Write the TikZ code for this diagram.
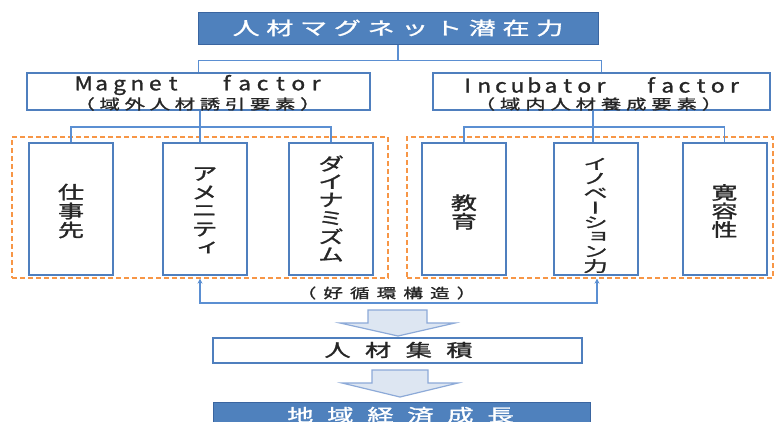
\documentclass[tikz,border=0pt]{standalone}
\usepackage{fontspec}
\setmainfont{Noto Sans CJK JP}[FakeBold=1.2]
\newfontfamily\vfont{Noto Sans CJK JP}[RawFeature=+vert,FakeBold=1.2]
\usetikzlibrary{arrows.meta}
\definecolor{tblue}{HTML}{4F81BD}
\definecolor{tedge}{HTML}{3A65A0}
\definecolor{bblue}{HTML}{4F7FBE}
\definecolor{cblue}{HTML}{5B8FD2}
\definecolor{dorange}{HTML}{F79646}
\definecolor{afill}{HTML}{DDE6F2}
\definecolor{aedge}{HTML}{8DAAD8}
\definecolor{txt}{HTML}{262626}
\ExplSyntaxOn
\NewDocumentCommand\hspread{m m}{\tl_map_inline:nn {#2}{\makebox[#1]{##1}}}
\NewDocumentCommand\vstack{m m}{\vbox{\offinterlineskip\tl_map_inline:nn {#2}{\hbox to 1em{\hss\vbox to #1{\vss\hbox{##1}\vss}\hss}}}}
\ExplSyntaxOff
\tikzset{
  topbox/.style={rectangle, fill=tblue, draw=tedge, line width=1pt, inner sep=0pt},
  fbox/.style={rectangle, fill=white, draw=bblue, line width=2pt, inner sep=0pt},
  dbox/.style={rectangle, draw=dorange, line width=1.3pt, dash pattern=on 5pt off 3pt, inner sep=0pt},
  conn/.style={draw=cblue, line width=1.2pt},
  lbl/.style={inner sep=0pt, text=txt},
  wlbl/.style={inner sep=0pt, text=white},
  barrow/.style={fill=afill, draw=aedge, line width=1.2pt, line join=miter}
}
\begin{document}
\begin{tikzpicture}[x=1pt,y=-1pt]
\useasboundingbox (0,0) rectangle (776,421);
\clip (0,0) rectangle (776,421);
\fill[white] (0,0) rectangle (776,421);

% dashed groups
\node[dbox, minimum width=376pt, minimum height=141pt] (dashL) at (200,207.5) {};
\node[dbox, minimum width=366pt, minimum height=141pt] (dashR) at (590,207.5) {};

% top title
\node[topbox, minimum width=400pt, minimum height=32pt] (title) at (398,28) {};
\node[wlbl] (titlet) at (398,28) {\scalebox{1.5}[1]{\fontsize{18}{18}\selectfont\hspread{22.5pt}{人材マグネット潜在力}}};

% factor boxes
\node[fbox, minimum width=343pt, minimum height=37pt] (magnet) at (198.5,91.5) {};
\node[fbox, minimum width=337pt, minimum height=37pt] (incub) at (601.5,91.5) {};
\node[lbl] (mag1) at (200,85) {\scalebox{1.2}[1]{\fontsize{19}{19}\selectfont\hspread{14.9pt}{Magnet~~factor}}};
\node[lbl] (mag2) at (197.5,104) {\scalebox{1.45}[1]{\fontsize{14}{14}\selectfont\hspread{17.3pt}{（域外人材誘引要素）}}};
\node[lbl] (inc1) at (601,85) {\scalebox{1.2}[1]{\fontsize{19}{19}\selectfont\hspread{13.9pt}{Incubator~~factor}}};
\node[lbl] (inc2) at (598.5,104) {\scalebox{1.45}[1]{\fontsize{14}{14}\selectfont\hspread{17.4pt}{（域内人材養成要素）}}};

% connectors top
\draw[conn] (title.south) -- ++(0,16) coordinate (tj);
\draw[conn] (magnet.north) |- (tj) -| (incub.north);

% element boxes
\foreach \nm/\xx in {b1/71, b2/204.5, b3/331, b4/464, b5/595.5, b6/724.5}
  \node[fbox, minimum width=84pt, minimum height=132pt] (\nm) at (\xx,209) {};

\node[lbl] (t1) at (71,211) {\scalebox{1.45}[1]{\vfont\fontsize{18}{18}\selectfont\vstack{19pt}{仕事先}}};
\node[lbl] (t2) at (204.5,211) {\scalebox{1.45}[1]{\vfont\fontsize{18}{18}\selectfont\vstack{18.5pt}{アメニティ}}};
\node[lbl] (t3) at (331,209) {\scalebox{1.45}[1]{\vfont\fontsize{18}{18}\selectfont\vstack{18.2pt}{ダイナミズム}}};
\node[lbl] (t4) at (464,212) {\scalebox{1.45}[1]{\vfont\fontsize{18}{18}\selectfont\vstack{18.5pt}{教育}}};
\node[lbl] (t5) at (595.5,215) {\scalebox{1.65}[1]{\vfont\fontsize{15}{15}\selectfont\vstack{14.6pt}{イノベーション力}}};
\node[lbl] (t6) at (724.5,211) {\scalebox{1.45}[1]{\vfont\fontsize{18}{18}\selectfont\vstack{18.5pt}{寛容性}}};

% connectors to element boxes
\coordinate (mj) at (200,127);
\draw[conn] (mj |- magnet.south) -- (mj);
\draw[conn] (b1.north) |- (mj) -| (b3.north);
\draw[conn] (mj) -- (mj |- b2.north);
\coordinate (ij) at (593,127);
\draw[conn] (ij |- incub.south) -- (ij);
\draw[conn] (b4.north) |- (ij) -| (b6.north);
\draw[conn] (ij) -- (ij |- b5.north);

% virtuous cycle loop
\coordinate (la) at (200,303);
\coordinate (ra) at (597,303);
\draw[conn, {Stealth[length=5pt,width=5pt]}-{Stealth[length=5pt,width=5pt]}] (la |- dashL.south) -- (la) -- (ra) -- (ra |- dashR.south);
\node[lbl] (loopt) at (386.5,293) {\scalebox{1.45}[1]{\fontsize{13.5}{13.5}\selectfont\hspread{18.4pt}{（好循環構造）}}};

% block arrow 1
\draw[barrow] (368,310) -- (427,310) -- (427,323) -- (455,323) -- (398,336) -- (340,323) -- (368,323) -- cycle;

% accumulation box
\node[fbox, minimum width=369pt, minimum height=25pt] (shu) at (397.5,350.5) {};
\node[lbl] (shut) at (398.5,350) {\scalebox{1.5}[1]{\fontsize{17.5}{17.5}\selectfont\hspread{27.1pt}{人材集積}}};

% block arrow 2
\draw[barrow] (372,370) -- (428,370) -- (428,383) -- (458,383) -- (400,397) -- (342,383) -- (372,383) -- cycle;

% growth box
\node[topbox, minimum width=377pt, minimum height=28pt] (growth) at (401.5,416) {};
\node[wlbl] (growtht) at (400.5,415) {\scalebox{1.5}[1]{\fontsize{17.5}{17.5}\selectfont\hspread{26.7pt}{地域経済成長}}};
\end{tikzpicture}
\end{document}
